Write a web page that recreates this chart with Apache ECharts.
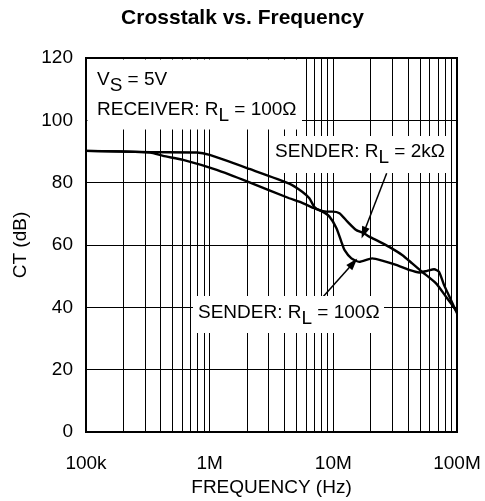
<!DOCTYPE html>
<html><head><meta charset="utf-8">
<script src="https://cdn.jsdelivr.net/npm/echarts@6/dist/echarts.min.js"></script>
<style>html,body{margin:0;padding:0;background:#fff}#c{width:485px;height:501px}</style>
</head><body><div id="c"></div>
<script>
const freq2k = [1e5, 3.3e5, 7.9e5, 1e6, 2.1e6, 4.4e6, 5.6e6, 6.4e6, 7.0e6, 7.7e6, 8.8e6, 9.8e6, 11.2e6, 13e6, 15.3e6, 17.8e6, 19.5e6, 23.5e6, 28.3e6, 36e6, 43.4e6, 52.2e6, 67.7e6, 81.5e6, 1e8];
const ct2k = [90.2, 89.8, 89.7, 88.9, 84.4, 79.7, 77.1, 75.0, 72.3, 71.2, 70.7, 70.7, 70.2, 67.5, 64.8, 63.7, 62.7, 61.1, 59.4, 56.8, 54.1, 51.4, 47.7, 43.4, 38.6];
const freq100 = [1e5, 3.3e5, 4.2e5, 6.1e5, 1.14e6, 2.1e6, 4.4e6, 5.3e6, 7.0e6, 8.15e6, 9.3e6, 10.6e6, 11.6e6, 12.3e6, 14e6, 16.2e6, 20.6e6, 24.8e6, 32.2e6, 41e6, 49.4e6, 57.3e6, 65.3e6, 71.6e6, 78.5e6, 89.5e6, 1e8];
const ct100 = [90.2, 89.7, 88.6, 87.3, 84.1, 80.1, 75.0, 73.9, 71.8, 70.7, 69.1, 65.4, 61.1, 58.4, 55.7, 54.6, 55.7, 55.0, 53.6, 52.0, 51.2, 51.7, 52.2, 51.4, 47.2, 42.3, 38.1];
const xTickValues = [1e5, 1e6, 1e7, 1e8];
const xTickLabels = ['100k', '1M', '10M', '100M'];
const minorGrid = [2e5,3e5,4e5,5e5,6e5,7e5,8e5,9e5,2e6,3e6,4e6,5e6,6e6,7e6,8e6,9e6,2e7,3e7,4e7,5e7,6e7,7e7,8e7,9e7];
const arrow2k = [[27e6, 83], [17.6e6, 63.9]];
const arrow100 = [[7.7e6, 42.0], [14.5e6, 54.2]];

const FONT = 'Liberation Sans, Arial, sans-serif';
const chart = echarts.init(document.getElementById('c'), null, {renderer: 'canvas'});
const zip = (a, b) => a.map((v, i) => [v, b[i]]);
const annFont = 19;
const rich = {
  a: {fontSize: annFont, fontFamily: FONT, color: '#000'},
  s: {fontSize: annFont, fontFamily: FONT, color: '#000', padding: [11, 0, 0, 0]}
};
function box(x, y, w, h) {
  return {type: 'rect', z: 100, shape: {x: x, y: y, width: w, height: h}, style: {fill: '#fff'}, silent: true};
}
function label(x, y, text) {
  return {type: 'text', z: 101, x: x, y: y, silent: true,
    style: {text: text, rich: rich, verticalAlign: 'middle', align: 'left', fontSize: annFont, fontFamily: FONT}};
}
const option = {
  animation: false,
  backgroundColor: '#fff',
  title: {text: 'Crosstalk vs. Frequency', left: 'center', top: 3,
    textStyle: {fontFamily: FONT, fontWeight: 'bold', fontSize: 21, color: '#000'}},
  grid: {left: 86, right: 28, top: 58, bottom: 69, show: true, borderColor: '#000', borderWidth: 2,
    backgroundColor: 'transparent', outerBoundsMode: 'none', containLabel: false},
  xAxis: {
    type: 'log', logBase: 10, min: 1e5, max: 1e8,
    name: 'FREQUENCY (Hz)', nameLocation: 'middle', nameGap: 46,
    nameTextStyle: {fontFamily: FONT, fontSize: 19, color: '#000'},
    axisLine: {lineStyle: {color: '#000', width: 2}},
    axisTick: {show: false},
    axisLabel: {fontFamily: FONT, fontSize: 19, color: '#000', margin: 22,
      formatter: v => { const i = xTickValues.findIndex(t => Math.abs(Math.log10(t) - Math.log10(v)) < 1e-6); return i >= 0 ? xTickLabels[i] : ''; }},
    splitLine: {show: true, lineStyle: {color: '#000', width: 1}},
    minorTick: {show: false}
  },
  yAxis: {
    type: 'value', min: 0, max: 120, interval: 20,
    name: 'CT (dB)', nameLocation: 'middle', nameGap: 54, nameRotate: 90,
    nameTextStyle: {fontFamily: FONT, fontSize: 19, color: '#000'},
    axisLine: {show: true, lineStyle: {color: '#000', width: 2}},
    axisTick: {show: false},
    axisLabel: {fontFamily: FONT, fontSize: 19, color: '#000', margin: 13},
    splitLine: {show: true, lineStyle: {color: '#000', width: 1}}
  },
  series: [
    {type: 'line', data: [], silent: true,
      markLine: {silent: true, symbol: 'none', animation: false, label: {show: false},
        lineStyle: {color: '#000', width: 1, type: 'solid'},
        data: minorGrid.map(v => ({xAxis: v}))}},
    {type: 'line', name: '2k', data: zip(freq2k, ct2k), showSymbol: false, symbol: 'none', smooth: 0.2,
      lineStyle: {color: '#000', width: 2.4}, z: 5,
      markLine: {silent: true, animation: false, label: {show: false}, symbol: ['none', 'triangle'], symbolSize: [8, 12],
        lineStyle: {color: '#000', width: 1.5, type: 'solid'}, itemStyle: {color: '#000'},
        data: [[{coord: arrow2k[0]}, {coord: arrow2k[1]}], [{coord: arrow100[0]}, {coord: arrow100[1]}]]}},
    {type: 'line', name: '100', data: zip(freq100, ct100), showSymbol: false, symbol: 'none', smooth: 0.2,
      lineStyle: {color: '#000', width: 2.4}, z: 5}
  ],
  graphic: [
    box(87.5, 59.5, 214.5, 70),
    label(97, 80, '{a|V}{s|S}{a| = 5V}'),
    label(97, 110, '{a|RECEIVER: R}{s|L}{a| = 100Ω}'),
    box(271, 136, 177, 37),
    label(275, 152, '{a|SENDER: R}{s|L}{a| = 2kΩ}'),
    box(193, 296, 191, 37),
    label(198, 313, '{a|SENDER: R}{s|L}{a| = 100Ω}')
  ]
};
chart.setOption(option);
</script></body></html>
